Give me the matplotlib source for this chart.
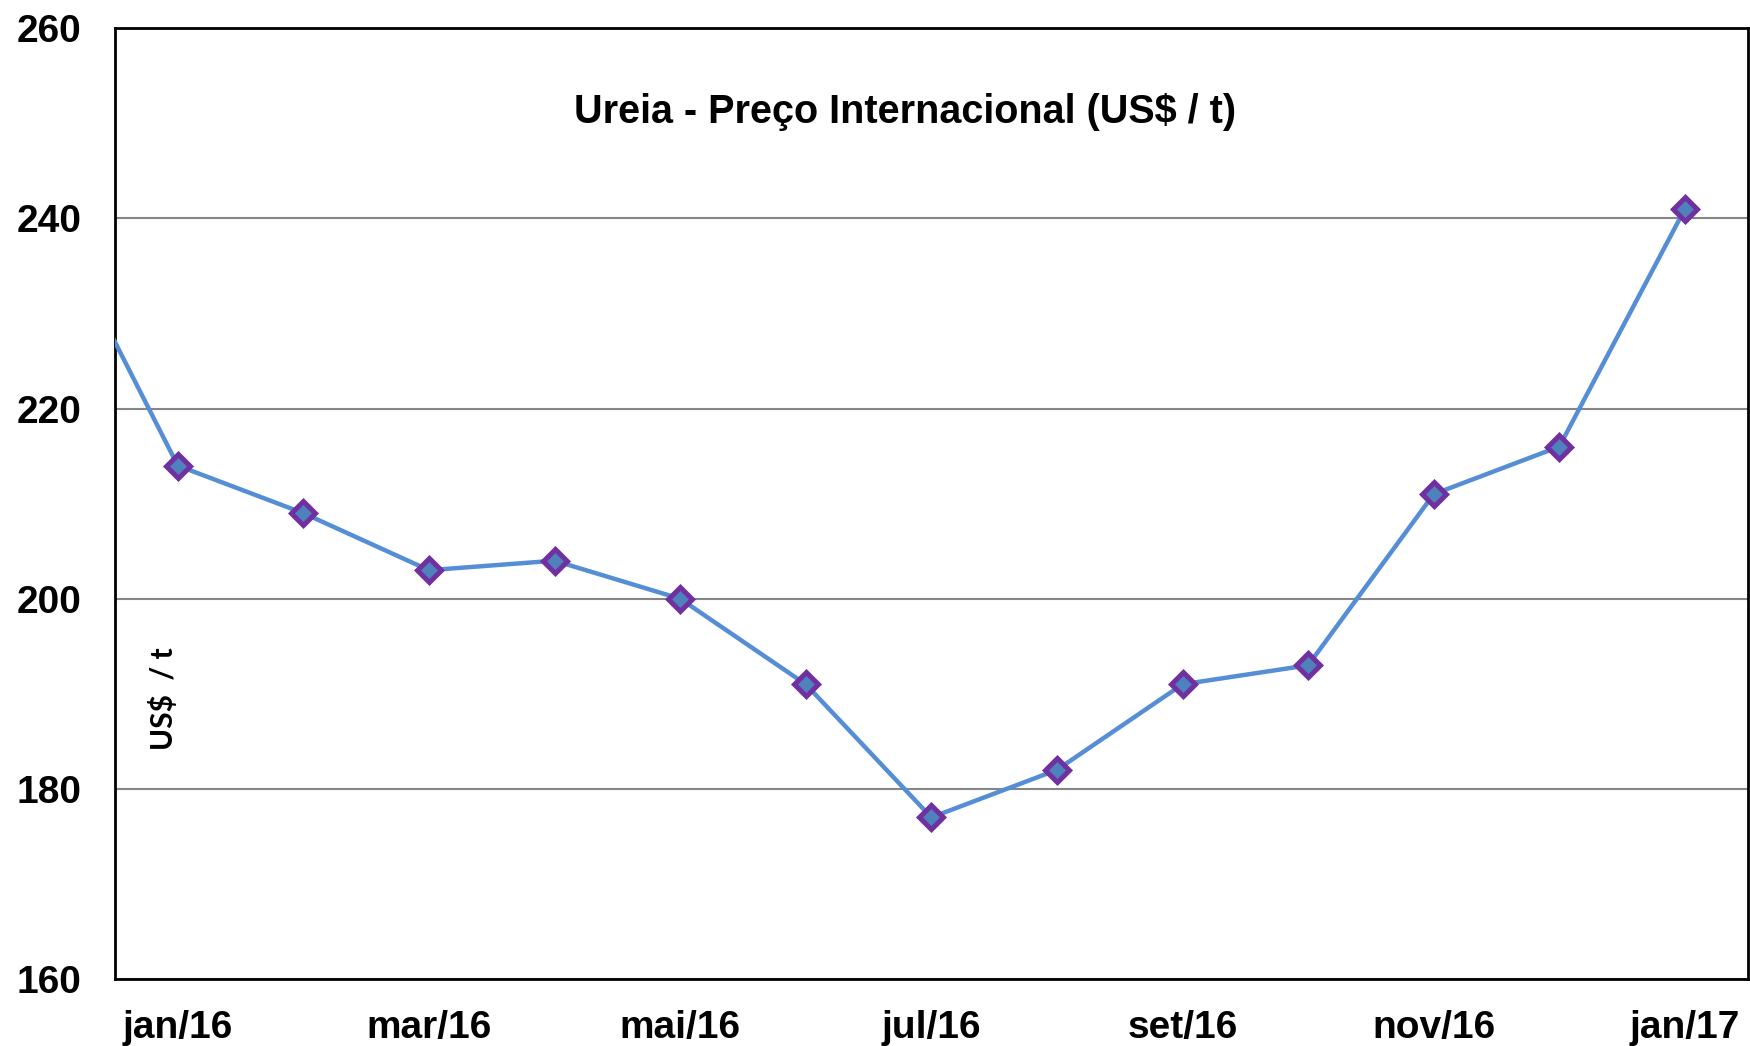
import matplotlib
matplotlib.use("Agg")
import matplotlib.pyplot as plt

# data (dez/15 is partially cut off by the axis on the left)
months = ["dez/15", "jan/16", "fev/16", "mar/16", "abr/16", "mai/16", "jun/16",
          "jul/16", "ago/16", "set/16", "out/16", "nov/16", "dez/16", "jan/17"]
prices = [240, 214, 209, 203, 204, 200, 191, 177, 182, 191, 193, 211, 216, 241]
tick_labels = ["jan/16", "mar/16", "mai/16", "jul/16", "set/16", "nov/16", "jan/17"]
y_ticks = [160, 180, 200, 220, 240, 260]

title = "Ureia - Preço Internacional (US$ / t)"
ylabel = "US$  / t"

fig = plt.figure(figsize=(17.5, 10.46), dpi=100)
ax = fig.add_axes([0.0657, 0.064, 0.933, 0.909])

x = list(range(-1, len(months) - 1))
ax.plot(x, prices, color="#558ED5", lw=3.2, zorder=3,
        marker="D", markersize=12.5, markerfacecolor="#4F81BD",
        markeredgecolor="#7030A0", markeredgewidth=3.6)

ax.set_xlim(-0.5, 12.5)
ax.set_ylim(160, 260)
ax.set_yticks(y_ticks)
ax.set_yticklabels([str(v) for v in y_ticks])
tick_pos = [months.index(t) - 1 for t in tick_labels]
ax.set_xticks(tick_pos)
ax.set_xticklabels(tick_labels)

for lab in ax.get_xticklabels() + ax.get_yticklabels():
    lab.set_fontfamily("Liberation Sans")
    lab.set_fontweight("bold")
    lab.set_fontsize(28)
ax.tick_params(axis="both", length=0)
ax.tick_params(axis="y", pad=24)
ax.tick_params(axis="x", pad=22)

ax.yaxis.grid(True, color="#868686", lw=1.5)
ax.set_axisbelow(True)
for s in ax.spines.values():
    s.set_color("black")
    s.set_linewidth(2)

ax.text(0.484, 0.912, title, transform=ax.transAxes, ha="center", va="center",
        fontsize=28.5, fontweight="bold", family="Liberation Sans")
ax.text(0.0295, 0.295, ylabel, transform=ax.transAxes, ha="center", va="center",
        rotation=90, fontsize=21.5, fontweight="bold", family="Lato")

fig.savefig("out.png", dpi=100)
